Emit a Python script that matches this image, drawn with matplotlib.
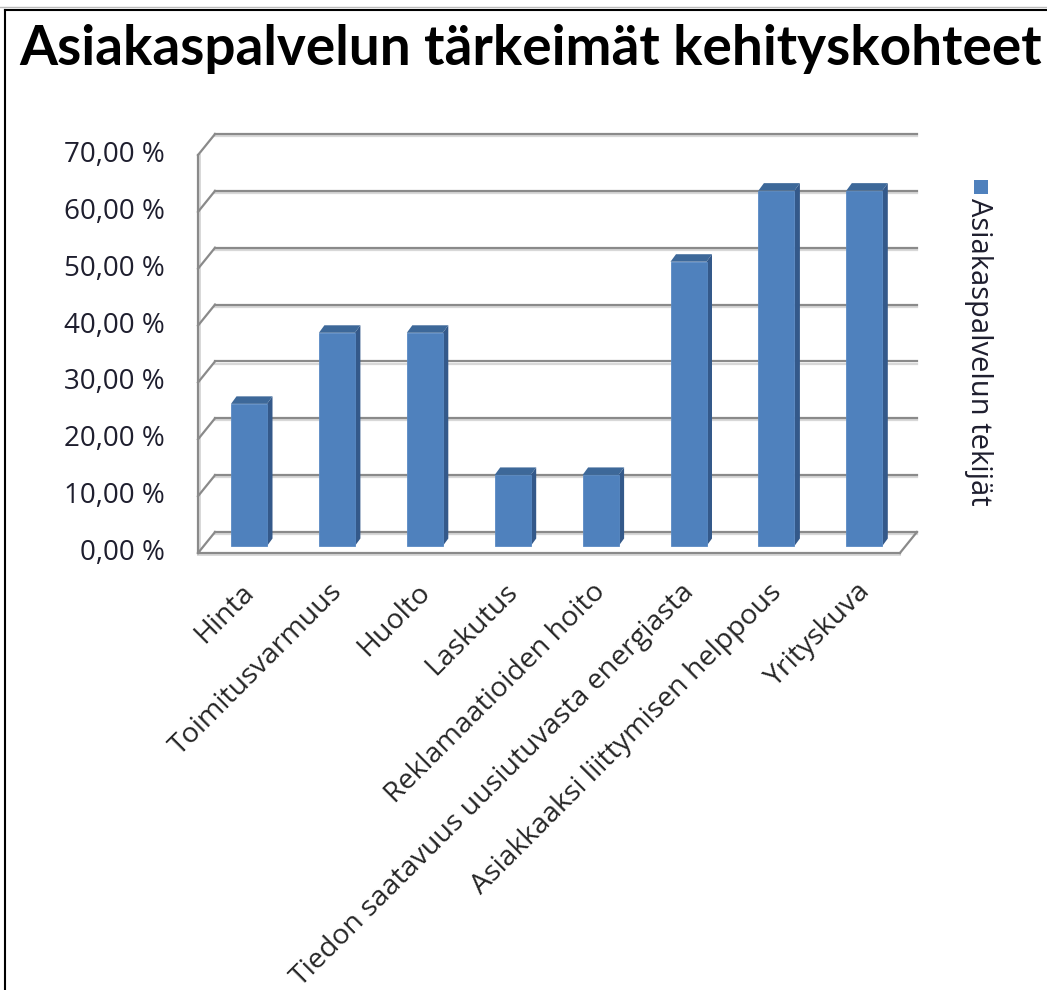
import numpy as np
import matplotlib
matplotlib.use("Agg")
import matplotlib.pyplot as plt
from matplotlib.patches import Polygon, Rectangle

title = "Asiakaspalvelun tärkeimät kehityskohteet"
categories = ["Hinta", "Toimitusvarmuus", "Huolto", "Laskutus",
              "Reklamaatioiden hoito", "Tiedon saatavuus uusiutuvasta energiasta",
              "Asiakkaaksi liittymisen helppous", "Yrityskuva"]
values = [25.0, 37.5, 37.5, 12.5, 12.5, 50.0, 62.5, 62.5]
series_name = "Asiakaspalvelun tekijät"
yticks = [0, 10, 20, 30, 40, 50, 60, 70]
ytick_labels = ["0,00 %", "10,00 %", "20,00 %", "30,00 %", "40,00 %", "50,00 %", "60,00 %", "70,00 %"]

W, H = 1047, 990
fig = plt.figure(figsize=(W / 100, H / 100), dpi=100)
fig.patch.set_facecolor("white")

# axes = plane where the bar fronts sit
x0, x1 = -0.6, 7.6
ax_left_px = 249 - 0.6 * 87.9
ax_w_px = 8.2 * 87.9
ax_bot_px = 546
ax_h_px = 398
ax = fig.add_axes([ax_left_px / W, (H - ax_bot_px) / H, ax_w_px / W, ax_h_px / H])
ax.set_xlim(x0, x1)
ax.set_ylim(0, 70)
ax.axis("off")

sx = ax_w_px / (x1 - x0)   # px per category
sy = ax_h_px / 70.0        # px per percent
def px(dx, dy):
    return dx / sx, dy / sy

xl, xr = -0.515, 7.47
fdx, fdy = px(-5.7, -7)     # front plane
bdx, bdy = px(11.3, 14)     # back wall
grid_col = "#8a8a8a"
shadow_col = "#d8d8d8"

# back wall gridlines + left wall diagonals
for v in yticks:
    sdx, sdy = px(0, -2.2)
    ax.plot([xl + bdx, xr + bdx], [v + bdy + sdy, v + bdy + sdy], color=shadow_col, lw=1.6, clip_on=False, zorder=1)
    ax.plot([xl + bdx, xr + bdx], [v + bdy, v + bdy], color=grid_col, lw=1.6, clip_on=False, zorder=2)
    ax.plot([xl + fdx, xl + bdx], [v + fdy, v + bdy], color=grid_col, lw=1.6, clip_on=False, zorder=2)
# front vertical axis line
ax.plot([xl + fdx, xl + fdx], [fdy, 70 + fdy], color=grid_col, lw=1.6, clip_on=False, zorder=2)
ax.plot([xl + fdx + px(2, 0)[0]] * 2, [fdy, 70 + fdy], color=shadow_col, lw=1.4, clip_on=False, zorder=1)
# floor front edge and right edge
ax.plot([xl + fdx, xr + fdx], [fdy, fdy], color=grid_col, lw=1.6, clip_on=False, zorder=2)
ax.plot([xl + fdx, xr + fdx], [fdy + px(0, -2.2)[1]] * 2, color=shadow_col, lw=1.4, clip_on=False, zorder=1)
ax.plot([xr + fdx, xr + bdx], [fdy, bdy], color=grid_col, lw=1.6, clip_on=False, zorder=2)

# bars with side and top faces
bw = 36 / sx
ddx, ddy = px(5.5, 7.5)
front_col = "#4f81bd"
side_col = "#34598a"
top_col = "#3d6899"
xs = np.arange(len(categories))
ax.bar(xs, values, width=bw, color=front_col, edgecolor="#5a8ac4", linewidth=0.6, zorder=5, clip_on=False)
for x, v in zip(xs, values):
    r = x + bw / 2
    l = x - bw / 2
    ax.add_patch(Polygon([(r, 0), (r + ddx, ddy), (r + ddx, v + ddy), (r, v)],
                         closed=True, facecolor=side_col, edgecolor="none", zorder=4, clip_on=False))
    ax.add_patch(Polygon([(l, v), (r, v), (r + ddx, v + ddy), (l + ddx, v + ddy)],
                         closed=True, facecolor=top_col, edgecolor="none", zorder=4, clip_on=False))

# y tick labels
lab_dx, _ = px(-33, 0)
for v, t in zip(yticks, ytick_labels):
    ax.text(xl + fdx + lab_dx, v + fdy, t, ha="right", va="center", fontsize=20,
            family="Open Sans", color="#1e1e2e", clip_on=False)

# category labels
_, cy = px(0, -42)
for x, c in zip(xs, categories):
    ax.text(x + px(1, 0)[0], cy, c, rotation=45, rotation_mode="anchor", ha="right", va="center",
            fontsize=20.5, family="Open Sans", color="#262626", clip_on=False)

# legend
fig.patches.append(Rectangle(((981 - 7) / W, (H - 194) / H), 14 / W, 14 / H,
                             transform=fig.transFigure, facecolor=front_col, edgecolor="none"))
fig.text(979 / W, (H - 198) / H, series_name, rotation=-90, rotation_mode="anchor",
         ha="left", va="center", fontsize=21, family="Open Sans", color="#1e1e2e")

# title
fig.text(531 / W, (H - 65) / H, title, ha="center", va="baseline", fontsize=39.5,
         family="Lato", fontweight="bold", color="black")

# chart border (top and left visible)
fig.add_artist(plt.Line2D([5 / W, 5 / W], [0, (H - 10) / H], transform=fig.transFigure, color="black", lw=1.5))
fig.add_artist(plt.Line2D([5 / W, 1], [(H - 10) / H, (H - 10) / H], transform=fig.transFigure, color="black", lw=1.5))
fig.add_artist(plt.Line2D([0, 1], [(H - 7) / H, (H - 7) / H], transform=fig.transFigure, color="#bbbbbb", lw=1))

fig.savefig("out.png", dpi=100)
